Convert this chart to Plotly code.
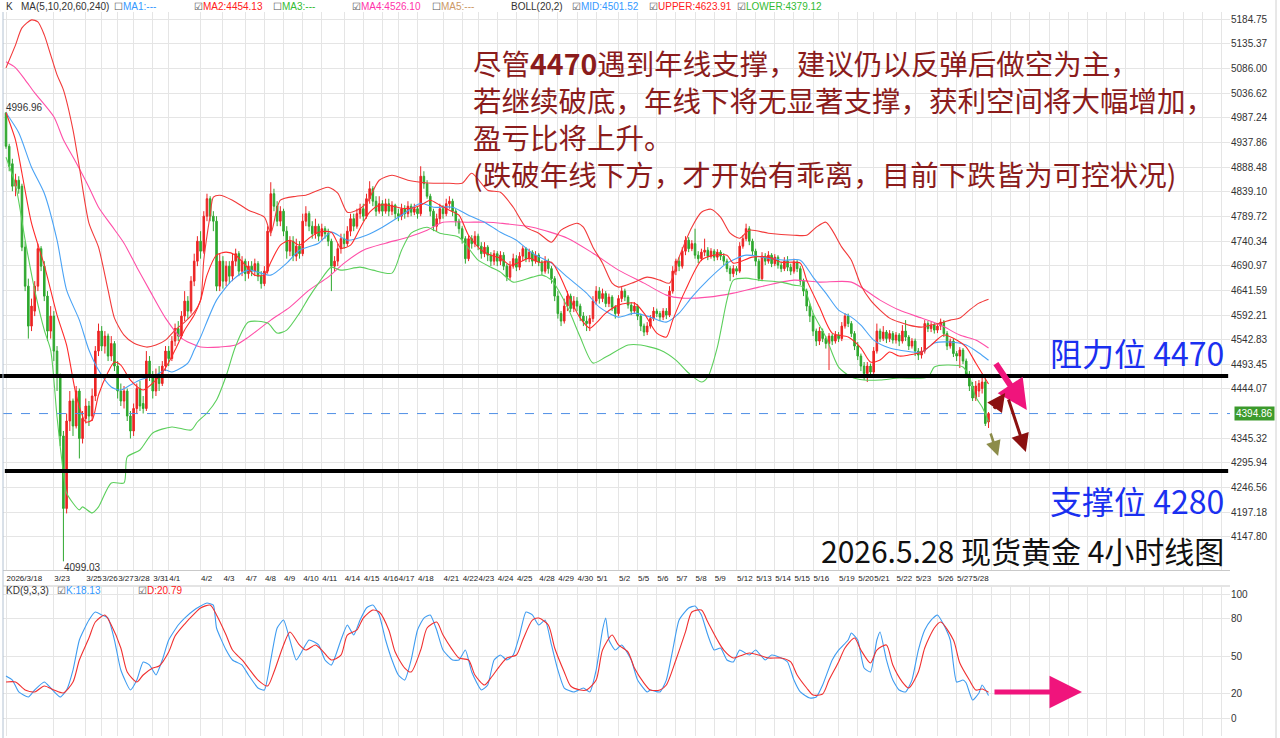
import plotly.graph_objects as go

# ---------------- data ----------------
opens = [4996.96, 4930, 4895, 4850, 4862, 4850, 4728, 4650, 4570, 4600,
         4650, 4725, 4690, 4630, 4560, 4590, 4520, 4470, 4350, 4205,
         4380, 4420, 4370, 4440, 4345, 4385, 4410, 4390, 4430, 4520,
         4560, 4530, 4550, 4510, 4535, 4490, 4440, 4420, 4440, 4390,
         4360, 4405, 4445, 4415, 4405, 4500, 4470, 4440, 4470, 4455,
         4490, 4520, 4505, 4540, 4565, 4550, 4590, 4620, 4600, 4660,
         4700, 4740, 4720, 4790, 4825, 4790, 4780, 4650, 4700, 4660,
         4690, 4670, 4700, 4715, 4680, 4700, 4675, 4690, 4680, 4695,
         4670, 4655, 4680, 4760, 4835, 4810, 4780, 4800, 4760, 4720,
         4740, 4710, 4730, 4715, 4780, 4795, 4770, 4755, 4770, 4750,
         4765, 4755, 4740, 4690, 4700, 4725, 4745, 4735, 4760, 4785,
         4770, 4795, 4805, 4790, 4825, 4845, 4820, 4800, 4815, 4800,
         4815, 4800, 4812, 4795, 4790, 4805, 4795, 4810, 4798, 4805,
         4795, 4870, 4855, 4830, 4800, 4770, 4785, 4805, 4795, 4815,
         4820, 4800, 4780, 4765, 4745, 4705, 4745, 4735, 4750, 4730,
         4715, 4728, 4712, 4700, 4715, 4700, 4712, 4690, 4668, 4690,
         4705, 4688, 4710, 4725, 4705, 4718, 4700, 4712, 4698, 4680,
         4700, 4685, 4665, 4630, 4595, 4580, 4610, 4630, 4605, 4620,
         4610, 4590, 4580, 4575, 4585, 4620, 4640, 4625, 4635, 4615,
         4628, 4608, 4595, 4625, 4640, 4628, 4612, 4600, 4610, 4590,
         4570, 4558, 4570, 4585, 4600, 4595, 4588, 4600, 4592, 4640,
         4680, 4700, 4690, 4720, 4742, 4725, 4735, 4712, 4705, 4718,
         4722, 4710, 4720, 4708, 4718, 4710, 4700, 4685, 4675, 4685,
         4680, 4730, 4745, 4765, 4740, 4720, 4700, 4665, 4710, 4700,
         4712, 4695, 4708, 4692, 4685, 4700, 4688, 4680, 4698, 4685,
         4660, 4640, 4610, 4590, 4560, 4540, 4560, 4545, 4535, 4550,
         4540, 4552, 4545, 4570, 4590, 4575, 4555, 4530, 4510, 4490,
         4475, 4490, 4478, 4520, 4560, 4545, 4558, 4545, 4555, 4542,
         4552, 4540, 4560, 4548, 4530, 4540, 4520, 4512, 4520, 4575,
         4565, 4572, 4562, 4570, 4578, 4555, 4530, 4540, 4515, 4510,
         4522, 4500, 4472, 4450, 4426, 4440, 4445, 4458, 4378]
highs = [4996.96, 4935, 4905, 4875, 4870, 4855, 4740, 4665, 4625, 4660,
         4735, 4730, 4700, 4640, 4610, 4600, 4530, 4475, 4360, 4395,
         4440, 4425, 4450, 4445, 4400, 4425, 4420, 4445, 4530, 4575,
         4570, 4560, 4555, 4550, 4540, 4500, 4455, 4450, 4445, 4400,
         4415, 4455, 4460, 4430, 4520, 4510, 4480, 4485, 4490, 4500,
         4530, 4530, 4550, 4575, 4580, 4600, 4640, 4630, 4670, 4715,
         4750, 4760, 4800, 4835, 4830, 4800, 4790, 4715, 4710, 4700,
         4700, 4715, 4725, 4720, 4710, 4705, 4700, 4700, 4705, 4700,
         4680, 4690, 4770, 4858, 4845, 4820, 4810, 4805, 4770, 4750,
         4750, 4745, 4740, 4795, 4810, 4800, 4780, 4785, 4775, 4775,
         4770, 4765, 4745, 4710, 4735, 4755, 4755, 4770, 4795, 4795,
         4805, 4815, 4815, 4835, 4860, 4850, 4830, 4830, 4822, 4825,
         4825, 4820, 4815, 4805, 4815, 4812, 4820, 4815, 4815, 4810,
         4890, 4880, 4862, 4835, 4805, 4795, 4815, 4812, 4825, 4830,
         4825, 4805, 4785, 4770, 4750, 4752, 4752, 4760, 4755, 4738,
         4738, 4732, 4718, 4722, 4720, 4720, 4718, 4695, 4700, 4715,
         4712, 4718, 4730, 4728, 4725, 4722, 4720, 4716, 4702, 4710,
         4705, 4690, 4670, 4640, 4600, 4625, 4640, 4635, 4630, 4628,
         4615, 4598, 4590, 4592, 4630, 4650, 4648, 4645, 4640, 4635,
         4632, 4612, 4632, 4648, 4645, 4632, 4618, 4618, 4614, 4595,
         4575, 4578, 4592, 4608, 4605, 4600, 4606, 4606, 4650, 4690,
         4705, 4708, 4728, 4750, 4748, 4742, 4765, 4720, 4725, 4745,
         4728, 4726, 4724, 4724, 4722, 4716, 4705, 4690, 4692, 4690,
         4738, 4752, 4775, 4770, 4745, 4725, 4705, 4718, 4716, 4720,
         4716, 4714, 4712, 4698, 4708, 4710, 4695, 4705, 4702, 4690,
         4665, 4645, 4615, 4596, 4565, 4568, 4565, 4550, 4556, 4555,
         4560, 4558, 4578, 4596, 4595, 4580, 4560, 4538, 4515, 4498,
         4498, 4495, 4528, 4575, 4565, 4570, 4562, 4562, 4560, 4558,
         4556, 4572, 4582, 4552, 4546, 4545, 4526, 4528, 4582, 4580,
         4578, 4576, 4575, 4585, 4582, 4560, 4545, 4545, 4520, 4528,
         4526, 4505, 4480, 4458, 4460, 4462, 4470, 4465, 4398]
lows = [4925, 4880, 4840, 4830, 4835, 4720, 4640, 4545, 4560, 4590,
        4640, 4680, 4620, 4540, 4545, 4500, 4440, 4330, 4099.03, 4195,
        4360, 4350, 4365, 4305, 4335, 4375, 4370, 4380, 4420, 4510,
        4520, 4515, 4500, 4500, 4480, 4425, 4410, 4405, 4380, 4345,
        4350, 4395, 4400, 4395, 4400, 4460, 4425, 4430, 4440, 4450,
        4480, 4490, 4500, 4530, 4540, 4545, 4580, 4585, 4595, 4650,
        4690, 4705, 4715, 4780, 4780, 4760, 4640, 4640, 4645, 4650,
        4655, 4660, 4690, 4670, 4670, 4660, 4665, 4670, 4670, 4660,
        4645, 4650, 4675, 4750, 4800, 4770, 4770, 4750, 4705, 4710,
        4700, 4700, 4705, 4710, 4770, 4760, 4745, 4745, 4740, 4740,
        4745, 4730, 4640, 4680, 4690, 4715, 4725, 4730, 4750, 4760,
        4765, 4785, 4780, 4785, 4815, 4810, 4790, 4795, 4790, 4795,
        4790, 4792, 4785, 4780, 4782, 4785, 4788, 4790, 4792, 4785,
        4790, 4845, 4825, 4790, 4760, 4760, 4775, 4785, 4790, 4805,
        4790, 4770, 4755, 4735, 4695, 4700, 4725, 4728, 4722, 4705,
        4708, 4700, 4690, 4692, 4690, 4692, 4682, 4660, 4662, 4685,
        4680, 4682, 4700, 4698, 4698, 4690, 4695, 4690, 4672, 4675,
        4675, 4655, 4620, 4585, 4570, 4575, 4600, 4598, 4598, 4600,
        4580, 4570, 4560, 4560, 4578, 4612, 4615, 4618, 4608, 4608,
        4600, 4585, 4590, 4618, 4620, 4605, 4592, 4595, 4582, 4560,
        4550, 4552, 4565, 4580, 4588, 4580, 4582, 4584, 4588, 4635,
        4672, 4680, 4685, 4712, 4718, 4720, 4705, 4696, 4700, 4710,
        4702, 4705, 4700, 4702, 4702, 4692, 4678, 4660, 4668, 4672,
        4676, 4725, 4740, 4732, 4712, 4690, 4660, 4660, 4692, 4695,
        4688, 4690, 4685, 4678, 4680, 4680, 4672, 4675, 4678, 4652,
        4630, 4600, 4578, 4550, 4530, 4532, 4538, 4525, 4482, 4532,
        4535, 4538, 4540, 4565, 4568, 4548, 4522, 4502, 4480, 4462,
        4458, 4468, 4472, 4515, 4538, 4540, 4536, 4538, 4535, 4535,
        4530, 4535, 4540, 4522, 4525, 4510, 4502, 4505, 4515, 4558,
        4558, 4555, 4556, 4562, 4548, 4522, 4525, 4508, 4500, 4486,
        4494, 4466, 4440, 4420, 4420, 4428, 4435, 4370, 4366]
closes = [4930, 4890, 4850, 4862, 4845, 4728, 4650, 4570, 4610, 4650,
          4725, 4690, 4630, 4560, 4590, 4520, 4470, 4350, 4205, 4380,
          4420, 4370, 4440, 4345, 4385, 4410, 4390, 4430, 4520, 4560,
          4530, 4550, 4510, 4535, 4490, 4440, 4420, 4440, 4390, 4360,
          4405, 4445, 4410, 4405, 4500, 4470, 4440, 4470, 4455, 4490,
          4520, 4505, 4540, 4565, 4550, 4590, 4620, 4600, 4660, 4700,
          4740, 4720, 4790, 4825, 4790, 4780, 4650, 4700, 4660, 4690,
          4670, 4700, 4715, 4680, 4700, 4675, 4690, 4680, 4695, 4670,
          4655, 4680, 4760, 4835, 4810, 4780, 4800, 4760, 4720, 4740,
          4710, 4730, 4715, 4780, 4795, 4770, 4755, 4770, 4750, 4765,
          4755, 4740, 4690, 4700, 4725, 4745, 4735, 4760, 4785, 4770,
          4795, 4805, 4790, 4825, 4845, 4820, 4800, 4815, 4800, 4815,
          4800, 4812, 4795, 4790, 4805, 4795, 4810, 4798, 4805, 4795,
          4870, 4855, 4830, 4800, 4770, 4785, 4805, 4795, 4815, 4820,
          4800, 4780, 4765, 4745, 4705, 4745, 4735, 4750, 4730, 4715,
          4728, 4712, 4700, 4715, 4700, 4712, 4690, 4668, 4690, 4705,
          4688, 4710, 4725, 4705, 4718, 4700, 4712, 4698, 4680, 4700,
          4685, 4665, 4630, 4595, 4580, 4610, 4630, 4605, 4620, 4610,
          4590, 4580, 4575, 4585, 4620, 4640, 4625, 4635, 4615, 4628,
          4608, 4595, 4625, 4640, 4628, 4612, 4600, 4610, 4590, 4570,
          4558, 4570, 4585, 4600, 4595, 4588, 4600, 4592, 4640, 4680,
          4700, 4690, 4720, 4742, 4725, 4735, 4712, 4705, 4718, 4722,
          4710, 4720, 4708, 4718, 4710, 4700, 4685, 4675, 4685, 4680,
          4730, 4745, 4765, 4740, 4720, 4700, 4665, 4710, 4700, 4712,
          4695, 4708, 4692, 4685, 4700, 4688, 4680, 4698, 4685, 4660,
          4640, 4610, 4590, 4560, 4540, 4560, 4545, 4535, 4550, 4540,
          4552, 4545, 4570, 4590, 4575, 4555, 4530, 4510, 4490, 4475,
          4490, 4478, 4520, 4560, 4545, 4558, 4545, 4555, 4542, 4552,
          4540, 4560, 4548, 4530, 4540, 4520, 4512, 4520, 4575, 4565,
          4572, 4562, 4570, 4578, 4555, 4530, 4540, 4515, 4510, 4522,
          4500, 4472, 4450, 4426, 4450, 4455, 4458, 4375, 4394.86]
bar_idx = list(range(len(closes)))

# indicator lines (bar index, value)
ma10_idx = [0, 3, 5, 8, 12, 14, 16, 19, 22, 25, 27, 29, 32, 34, 36, 39, 43, 47, 50, 53,
            56, 59, 61, 63, 66, 69, 72, 75, 78, 81, 83, 86, 89, 92, 95, 98, 102, 105, 108, 111,
            114, 117, 120, 124, 127, 130, 133, 136, 139, 142, 145, 149, 152, 155, 158, 161, 164, 167, 171, 174,
            177, 180, 183, 185, 188, 192, 197, 200, 204, 207, 209, 213, 218, 222, 226, 228, 234, 239, 243, 249,
            251, 255, 259, 264, 268, 271, 274, 277, 280, 283, 287, 290, 294, 298, 301, 304, 308]
ma10_val = [4997, 4942, 4876, 4776, 4692, 4642, 4592, 4532, 4432, 4378, 4382, 4432, 4478, 4498, 4492, 4462, 4442, 4462, 4486, 4522,
            4562, 4592, 4622, 4672, 4712, 4718, 4712, 4692, 4672, 4672, 4698, 4732, 4742, 4732, 4746, 4758, 4758, 4726, 4732, 4766,
            4798, 4812, 4812, 4806, 4806, 4812, 4822, 4812, 4802, 4792, 4752, 4722, 4712, 4706, 4692, 4698, 4706, 4698, 4698, 4666,
            4622, 4586, 4566, 4576, 4596, 4612, 4616, 4596, 4556, 4548, 4582, 4642, 4702, 4712, 4712, 4696, 4708, 4708, 4698, 4696,
            4662, 4608, 4556, 4548, 4526, 4498, 4502, 4518, 4510, 4512, 4518, 4532, 4552, 4542, 4528, 4496, 4454.13]
ma60_idx = [0, 3, 6, 9, 15, 18, 22, 26, 29, 33, 37, 41, 45, 50, 55, 61, 67, 72, 76, 83,
            89, 95, 101, 106, 112, 119, 126, 132, 137, 145, 151, 155, 165, 176, 184, 192, 200, 207, 212, 220,
            228, 236, 247, 255, 265, 274, 280, 287, 293, 299, 304, 308]
ma60_val = [5099, 5087, 5063, 5037, 4989, 4943, 4897, 4848, 4808, 4772, 4736, 4688, 4642, 4586, 4546, 4528, 4528, 4532, 4548, 4582,
            4608, 4642, 4668, 4696, 4722, 4736, 4748, 4762, 4778, 4778, 4778, 4776, 4768, 4746, 4716, 4682, 4656, 4632, 4626, 4628,
            4636, 4648, 4662, 4658, 4658, 4622, 4602, 4586, 4572, 4552, 4542, 4526.10]
up_idx = [0, 3, 5, 8, 10, 12, 14, 16, 18, 21, 23, 26, 29, 32, 34, 37, 40, 44, 47, 50,
          53, 56, 59, 61, 62, 64, 65, 67, 71, 76, 81, 83, 86, 91, 94, 101, 104, 107, 110, 113,
          117, 121, 126, 130, 134, 139, 143, 146, 151, 155, 159, 163, 167, 171, 174, 179, 181, 184, 187, 190,
          192, 197, 201, 205, 208, 211, 215, 218, 221, 224, 227, 230, 233, 239, 247, 251, 254, 257, 259, 262,
          265, 268, 271, 274, 277, 280, 283, 287, 290, 293, 296, 299, 302, 305, 308]
up_val = [5087, 5133, 5167, 5183, 5179, 5153, 5113, 5073, 5043, 4963, 4888, 4776, 4728, 4642, 4586, 4552, 4536, 4528, 4532, 4542,
          4562, 4578, 4598, 4622, 4702, 4792, 4828, 4832, 4822, 4802, 4788, 4756, 4822, 4830, 4832, 4848, 4836, 4798, 4802, 4816,
          4862, 4872, 4862, 4858, 4856, 4856, 4856, 4876, 4842, 4838, 4808, 4768, 4756, 4738, 4762, 4776, 4768, 4728, 4696, 4656,
          4648, 4658, 4668, 4662, 4656, 4708, 4768, 4798, 4804, 4788, 4756, 4746, 4762, 4756, 4752, 4752, 4768, 4778, 4762, 4728,
          4702, 4652, 4622, 4602, 4586, 4578, 4572, 4568, 4572, 4576, 4582, 4586, 4602, 4616, 4623.91]
mid_idx = [0, 4, 8, 12, 16, 19, 23, 26, 29, 33, 36, 39, 42, 47, 50, 52, 57, 59, 61, 66,
           71, 76, 83, 88, 92, 98, 102, 107, 113, 118, 124, 130, 134, 140, 145, 150, 155, 160, 165, 171,
           176, 182, 186, 192, 197, 202, 207, 211, 215, 220, 226, 232, 239, 244, 249, 253, 257, 261, 265, 268,
           272, 277, 280, 287, 291, 296, 301, 305, 308]
mid_val = [4997, 4957, 4888, 4836, 4742, 4642, 4582, 4522, 4482, 4448, 4442, 4452, 4462, 4472, 4482, 4478, 4496, 4522, 4548, 4622,
           4662, 4682, 4672, 4696, 4722, 4736, 4758, 4742, 4752, 4768, 4792, 4816, 4808, 4808, 4792, 4778, 4758, 4742, 4716, 4696,
           4668, 4636, 4608, 4588, 4596, 4588, 4578, 4596, 4628, 4662, 4696, 4712, 4706, 4702, 4702, 4668, 4636, 4602, 4588, 4572,
           4542, 4526, 4522, 4518, 4536, 4538, 4532, 4516, 4501.52]
lo_idx = [0, 3, 6, 9, 12, 14, 16, 18, 19, 23, 24, 27, 29, 33, 37, 38, 42, 46, 52, 58,
          60, 63, 66, 69, 72, 76, 82, 85, 88, 92, 95, 98, 102, 105, 111, 115, 121, 124, 127, 132,
          136, 142, 148, 152, 155, 159, 165, 168, 171, 176, 180, 184, 188, 195, 199, 205, 210, 214, 218, 220,
          223, 226, 228, 232, 236, 243, 247, 250, 253, 257, 261, 265, 269, 274, 280, 289, 291, 295, 300, 302,
          304, 306, 308]
lo_val = [4908, 4852, 4742, 4642, 4562, 4522, 4388, 4276, 4236, 4202, 4208, 4196, 4208, 4256, 4256, 4308, 4322, 4356, 4368, 4362,
          4378, 4396, 4422, 4470, 4530, 4578, 4576, 4556, 4562, 4596, 4628, 4656, 4688, 4682, 4688, 4682, 4676, 4722, 4756, 4768,
          4756, 4748, 4702, 4688, 4678, 4658, 4668, 4672, 4662, 4608, 4548, 4496, 4508, 4532, 4532, 4522, 4502, 4476, 4458, 4468,
          4528, 4622, 4662, 4666, 4662, 4658, 4652, 4648, 4596, 4548, 4488, 4468, 4462, 4462, 4466, 4468, 4488, 4492, 4488, 4468,
          4428, 4408, 4379.12]
k_idx = [0, 2, 4, 7, 9, 12, 14, 17, 19, 21, 23, 26, 28, 30, 32, 34, 36, 39, 41, 43,
         45, 47, 49, 51, 54, 56, 59, 61, 63, 65, 66, 69, 71, 74, 76, 79, 81, 83, 85, 87,
         89, 91, 93, 95, 98, 100, 102, 105, 107, 109, 111, 113, 115, 117, 119, 121, 123, 125, 127, 129,
         131, 133, 135, 137, 140, 142, 144, 146, 149, 151, 153, 155, 157, 159, 161, 163, 165, 167, 169, 171,
         173, 175, 178, 181, 183, 185, 187, 188, 189, 191, 193, 196, 198, 201, 202, 205, 207, 209, 211, 214,
         216, 218, 220, 222, 224, 226, 228, 230, 233, 235, 238, 240, 243, 245, 247, 249, 252, 254, 256, 259,
         261, 264, 265, 267, 269, 271, 273, 274, 276, 278, 280, 282, 284, 286, 288, 290, 292, 294, 296, 298,
         300, 301, 303, 305, 306, 308]
k_val = [33.9, 30.6, 21.0, 16.9, 22.6, 29.0, 24.2, 16.9, 22.6, 38.7, 62.9, 79.0, 85.5, 83.1, 80.6, 62.9, 38.7, 22.6, 30.6, 45.2,
         42.7, 34.7, 46.8, 62.9, 75.0, 80.6, 87.1, 90.3, 92.7, 91.1, 72.6, 54.8, 46.8, 42.7, 34.7, 24.2, 22.6, 46.8, 72.6, 79.0,
         62.9, 46.8, 54.8, 62.9, 58.9, 46.8, 42.7, 62.9, 75.0, 66.9, 79.0, 88.7, 91.1, 83.1, 62.9, 46.8, 34.7, 30.6, 46.8, 71.0,
         80.6, 83.1, 71.0, 54.8, 46.8, 46.8, 54.8, 37.1, 22.6, 26.6, 46.8, 50.8, 46.8, 50.8, 66.9, 85.5, 83.1, 75.0, 79.0, 58.9,
         38.7, 24.2, 21.0, 24.2, 21.0, 38.7, 71.0, 80.6, 62.9, 54.8, 58.9, 46.8, 30.6, 21.0, 22.6, 21.0, 30.6, 54.8, 79.0, 88.7,
         90.3, 83.1, 66.9, 54.8, 56.5, 46.8, 45.2, 54.8, 50.8, 54.8, 46.8, 50.8, 48.4, 45.2, 30.6, 21.0, 16.1, 16.9, 26.6, 46.8,
         54.8, 62.9, 68.6, 62.9, 40.3, 37.1, 62.9, 69.4, 46.8, 30.6, 22.6, 21.0, 30.6, 54.8, 71.0, 79.0, 83.1, 75.0, 62.9, 29.0,
         30.6, 28.2, 14.5, 20.2, 26.6, 18.13]
d_idx = [0, 3, 6, 9, 12, 15, 18, 21, 23, 26, 28, 31, 33, 36, 38, 41, 43, 46, 48, 51,
         53, 56, 59, 61, 64, 66, 69, 71, 74, 76, 79, 82, 84, 87, 89, 92, 94, 97, 99, 102,
         105, 107, 110, 112, 115, 117, 120, 122, 125, 127, 130, 132, 135, 137, 140, 142, 145, 147, 150, 152,
         155, 157, 160, 162, 165, 167, 170, 172, 175, 177, 180, 182, 185, 187, 190, 192, 195, 197, 200, 202,
         205, 207, 210, 213, 215, 218, 220, 223, 225, 228, 230, 233, 236, 239, 243, 246, 248, 251, 253, 256,
         258, 261, 263, 266, 268, 271, 273, 276, 278, 281, 283, 286, 288, 291, 293, 297, 299, 302, 304, 306,
         308]
d_val = [29.0, 29.0, 22.6, 21.0, 25.8, 22.6, 20.2, 29.0, 46.8, 64.5, 77.4, 83.1, 75.0, 56.5, 37.1, 29.0, 34.7, 40.3, 41.9, 53.2,
         66.1, 75.8, 83.9, 88.7, 91.1, 83.1, 66.9, 54.8, 46.8, 40.3, 30.6, 25.8, 37.1, 58.9, 69.4, 58.9, 54.8, 58.9, 54.8, 46.8,
         50.8, 66.9, 71.0, 80.6, 87.1, 85.5, 71.0, 53.2, 40.3, 37.1, 54.8, 72.6, 77.4, 66.9, 54.8, 48.4, 46.8, 34.7, 26.6, 32.3,
         42.7, 48.4, 50.8, 62.9, 79.0, 80.6, 75.0, 56.5, 37.1, 25.8, 22.6, 22.6, 30.6, 54.8, 66.9, 58.9, 53.2, 40.3, 28.2, 22.6,
         22.6, 26.6, 46.8, 69.4, 85.5, 87.1, 77.4, 62.9, 54.8, 48.4, 50.0, 52.4, 50.8, 48.4, 48.4, 45.2, 34.7, 24.2, 18.5, 19.4,
         30.6, 45.2, 56.5, 64.5, 54.8, 44.4, 54.8, 58.9, 42.7, 29.0, 24.2, 37.1, 56.5, 72.6, 77.4, 62.9, 44.4, 30.6, 22.6, 23.4,
         20.79]

tick_idx = [0, 15, 25, 30, 35, 40, 46, 51, 61, 68, 75, 81, 87, 93, 99, 106, 112, 118, 123, 129,
            137, 143, 148, 154, 160, 167, 173, 179, 185, 192, 198, 204, 210, 216, 222, 229, 235, 241, 247, 253,
            261, 267, 272, 279, 285, 292, 298, 303]
tick_txt = ["2026/3/18", "3/23", "3/25", "3/26", "3/27", "3/28", "3/31", "4/1", "4/2", "4/3",
            "4/7", "4/8", "4/9", "4/10", "4/11", "4/14", "4/15", "4/16", "4/17", "4/18",
            "4/21", "4/22", "4/23", "4/24", "4/25", "4/28", "4/29", "4/30", "5/1", "5/2",
            "5/5", "5/6", "5/7", "5/8", "5/9", "5/12", "5/13", "5/14", "5/15", "5/16",
            "5/19", "5/20", "5/21", "5/22", "5/23", "5/26", "5/27", "5/28"]
price_ticks = [5184.75, 5135.37, 5086.00, 5036.62, 4987.24, 4937.86, 4888.48, 4839.10, 4789.72, 4740.34,
               4690.97, 4641.59, 4592.21, 4542.83, 4493.45, 4444.07, 4345.32, 4295.94, 4246.56, 4197.18, 4147.80]
kd_ticks = [0, 20, 50, 80, 100]
last_price = 4394.86
resistance = 4470
support = 4280
high_mark = 4996.96
low_mark = 4099.03

# ---------------- styling / layout helpers ----------------
W, H = 1280, 738
PL, PR = 3, 1230
def pxx(x):
    return (x - PL) / (PR - PL)
def pxy(y):
    return 1 - y / H

RED = '#ec2424'
GREEN = '#2fa82f'
C_MA10 = '#ff2a2a'
C_UP = '#f23a3a'
C_MID = '#4aa3f5'
C_LO = '#5ccf5c'
C_MA60 = '#ff4fa8'
C_K = '#3f9cf0'
C_D = '#f03030'
GRID = '#e5e5e5'
TXT = '#333333'

fig = go.Figure()
fig.add_trace(go.Candlestick(
    x=bar_idx, open=opens, high=highs, low=lows, close=closes,
    increasing=dict(line=dict(color=RED, width=1), fillcolor=RED),
    decreasing=dict(line=dict(color=GREEN, width=1), fillcolor=GREEN),
    whiskerwidth=0, showlegend=False, hoverinfo='skip', xaxis='x', yaxis='y'))

def line(xs, ys, color, xa='x', ya='y', sm=0.7, w=1.1):
    fig.add_trace(go.Scatter(x=xs, y=ys, mode='lines', xaxis=xa, yaxis=ya,
                             line=dict(color=color, width=w, shape='spline', smoothing=sm),
                             showlegend=False, hoverinfo='skip'))

line(ma60_idx, ma60_val, C_MA60)
line(lo_idx, lo_val, C_LO)
line(mid_idx, mid_val, C_MID)
line(up_idx, up_val, C_UP)
line(ma10_idx, ma10_val, C_MA10)
line(k_idx, k_val, C_K, 'x2', 'y2', 0.5)
line(d_idx, d_val, C_D, 'x2', 'y2', 0.7)

extra_ticks = list(range(309, 384, 6))
all_ticks = tick_idx + extra_ticks
all_txt = tick_txt + [''] * len(extra_ticks)

x_range = [-0.94, 383.7]
fig.update_layout(
    width=W, height=H, margin=dict(l=PL, r=W - PR, t=0, b=0),
    paper_bgcolor='white', plot_bgcolor='white',
    font=dict(family='Liberation Sans, Arial, sans-serif', size=10, color=TXT),
    xaxis=dict(domain=[0, 1], range=x_range, anchor='y', tickmode='array',
               tickvals=all_ticks, ticktext=all_txt, ticklabelposition='outside right',
               tickangle=0, ticks='', tickfont=dict(size=8, color='#222'),
               showgrid=True, gridcolor=GRID, gridwidth=1, zeroline=False,
               showline=True, linecolor='#c9c9c9', linewidth=1,
               rangeslider=dict(visible=False)),
    xaxis2=dict(domain=[0, 1], matches='x', anchor='y2', tickmode='array',
                tickvals=all_ticks, showticklabels=False, ticks='',
                showgrid=True, gridcolor=GRID, zeroline=False, showline=False,
                rangeslider=dict(visible=False)),
    yaxis=dict(domain=[1 - 570 / H, 1 - 12 / H], range=[4081.7, 5198.8], anchor='x',
               side='right', tickmode='array', tickvals=price_ticks,
               ticktext=[f'{v:.2f}' for v in price_ticks], ticks='',
               tickfont=dict(size=10, color=TXT), showgrid=True, gridcolor=GRID,
               zeroline=False),
    yaxis2=dict(domain=[1 - 736 / H, 1 - 587 / H], range=[-14.5, 105.65], anchor='x2',
                side='right', tickmode='array', tickvals=kd_ticks,
                ticktext=[str(v) for v in kd_ticks], ticks='',
                tickfont=dict(size=10, color=TXT), showgrid=True, gridcolor=GRID,
                zeroline=False),
)

shapes = [
    dict(type='line', xref='paper', yref='y', x0=0, x1=1, y0=last_price, y1=last_price,
         line=dict(color='#4f8fe6', width=1, dash='dash')),
    dict(type='line', xref='paper', yref='y', x0=-0.003, x1=0.9985, y0=resistance, y1=resistance,
         line=dict(color='black', width=4)),
    dict(type='line', xref='paper', yref='y', x0=0.0015, x1=0.9985, y0=support, y1=support,
         line=dict(color='black', width=4)),
    dict(type='line', xref='paper', yref='paper', x0=0, x1=0, y0=0, y1=pxy(12),
         line=dict(color='#b4c2d2', width=1)),
    dict(type='line', xref='paper', yref='paper', x0=0, x1=1, y0=pxy(586), y1=pxy(586),
         line=dict(color='#c9c9c9', width=1)),
    dict(type='line', xref='paper', yref='paper', x0=pxx(1276), x1=pxx(1276), y0=0, y1=1,
         line=dict(color='#d0d0d0', width=1)),
]
fig.update_layout(shapes=shapes)

ann = []
def chk(on):
    return '<span style="color:#555">' + ('\u2611' if on else '\u2610') + '</span>'

top_items = [
    (4, 'K', TXT, None), (19, 'MA(5,10,20,60,240)', TXT, None),
    (112, 'MA1:---', '#3399ff', False), (192, 'MA2:4454.13', '#ff2020', True),
    (271, 'MA3:---', '#33bb33', False), (350, 'MA4:4526.10', '#ff33aa', True),
    (430, 'MA5:---', '#cc9966', False), (509, 'BOLL(20,2)', TXT, None),
    (570, 'MID:4501.52', '#3399ff', True), (647, 'UPPER:4623.91', '#ff2020', True),
    (735, 'LOWER:4379.12', '#33bb33', True),
]
for x, t, c, cb in top_items:
    txt = (chk(cb) if cb is not None else '') + f'<span style="color:{c}">{t}</span>'
    ann.append(dict(xref='paper', yref='paper', x=pxx(x), y=pxy(7), xanchor='left', yanchor='middle',
                    text=txt, showarrow=False, font=dict(size=10)))
kd_items = [(4, 'KD(9,3,3)', TXT, None), (55, 'K:18.13', '#3399ff', True), (136, 'D:20.79', '#ff2020', True)]
for x, t, c, cb in kd_items:
    txt = (chk(cb) if cb is not None else '') + f'<span style="color:{c}">{t}</span>'
    ann.append(dict(xref='paper', yref='paper', x=pxx(x), y=pxy(590), xanchor='left', yanchor='middle',
                    text=txt, showarrow=False, font=dict(size=10)))

ann.append(dict(xref='x', yref='y', x=-0.6, y=high_mark, xanchor='left', yanchor='middle', yshift=5,
                text=f'{high_mark:.2f}', showarrow=False, font=dict(size=10, color=TXT)))
ann.append(dict(xref='x', yref='y', x=17.6, y=low_mark, xanchor='left', yanchor='top', yshift=1,
                text=f'{low_mark:.2f}', showarrow=False, font=dict(size=10, color=TXT)))
ann.append(dict(xref='paper', yref='y', x=pxx(1234), y=last_price, xanchor='left', yanchor='middle',
                text=f'{last_price:.2f}', showarrow=False, bgcolor='#3c9a2c', borderpad=1,
                font=dict(size=10, color='white')))

CJK = 'Noto Sans CJK SC, sans-serif'
ann.append(dict(xref='paper', yref='paper', x=pxx(471), y=pxy(40), xanchor='left', yanchor='top',
                align='left', showarrow=False, font=dict(family=CJK, size=28.5, color='#8b1c1c'),
                text='尽管<b>4470</b>遇到年线支撑，建议仍以反弹后做空为主，<br>'
                     '若继续破底，年线下将无显著支撑，获利空间将大幅增加，<br>'
                     '盈亏比将上升。<br>'
                     '(跌破年线下方，才开始有乖离，目前下跌皆为可控状况)'))
ann.append(dict(xref='paper', yref='paper', x=pxx(1226), y=pxy(352), xanchor='right', yanchor='middle',
                showarrow=False, font=dict(family=CJK, size=32, color='#1a30f0'), text=f'阻力位 {resistance}'))
ann.append(dict(xref='paper', yref='paper', x=pxx(1226), y=pxy(500), xanchor='right', yanchor='middle',
                showarrow=False, font=dict(family=CJK, size=32, color='#1a30f0'), text=f'支撑位 {support}'))
ann.append(dict(xref='paper', yref='paper', x=pxx(1226), y=pxy(550), xanchor='right', yanchor='middle',
                showarrow=False, font=dict(family=CJK, size=30, color='#111111'), text='2026.5.28 现货黄金 4小时线图'))

# arrows (tip x,y ; tail ax,ay)
def arrow(x, y, ax, ay, color, w, size, xr='x', yr='y'):
    ann.append(dict(xref=xr, yref=yr, axref=xr, ayref=yr, x=x, y=y, ax=ax, ay=ay, text='',
                    showarrow=True, arrowhead=2, arrowsize=size, arrowwidth=w, arrowcolor=color,
                    standoff=0, startstandoff=0))
arrow(320.0, 4402, 310.0, 4498, '#f0147c', 6, 1.0)
arrow(313.2, 4436, 309.4, 4402, '#8b1010', 3, 1.2)
arrow(319.7, 4318, 314.1, 4426, '#8b1010', 3, 1.2)
arrow(311.0, 4310, 308.5, 4358, '#8c8c4a', 2.5, 1.2)
arrow(337.3, 21, 309.4, 21, '#f0147c', 5, 1.3, 'x2', 'y2')

fig.update_layout(annotations=ann)
fig.write_html('out.html', config={'displayModeBar': False})
